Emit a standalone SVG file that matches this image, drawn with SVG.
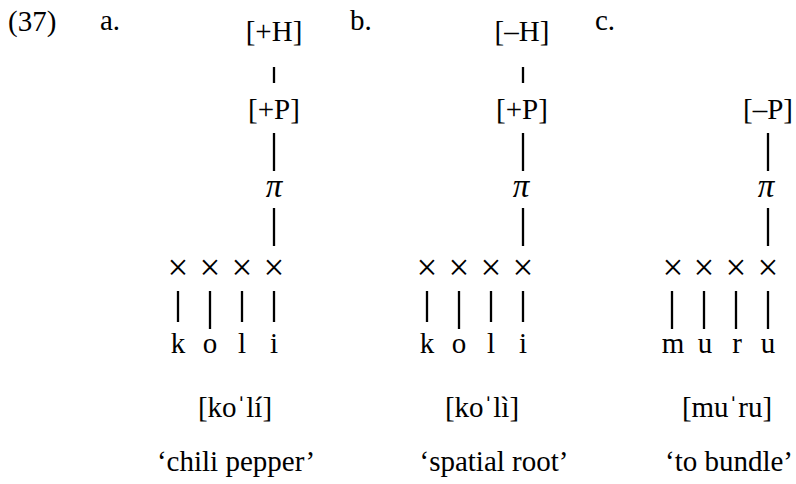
<svg xmlns="http://www.w3.org/2000/svg" width="796" height="484" viewBox="0 0 796 484">
<style>
text{font-family:"Liberation Serif","Times New Roman",serif;font-size:29px;fill:#000}
.m{text-anchor:middle}
.pi{font-style:italic;font-size:33px}
.x{font-size:37px}
line{stroke:#000;stroke-width:2.3}
</style>
<rect width="796" height="484" fill="#fff"/>
<g id="labels">
<text id="num" x="8" y="31">(37)</text>
<text id="la" x="100" y="30">a.</text>
<text id="lb" x="350" y="30">b.</text>
<text id="lc" x="595" y="30">c.</text>
</g>
<g id="connectors">
<line x1="274" y1="67" x2="274" y2="83"/>
<line x1="274" y1="133" x2="274" y2="171"/>
<line x1="274" y1="208" x2="274" y2="246"/>
<line x1="178" y1="291" x2="178" y2="322"/>
<line x1="210" y1="291" x2="210" y2="329"/>
<line x1="242" y1="291" x2="242" y2="322"/>
<line x1="274" y1="291" x2="274" y2="322"/>
<line x1="523" y1="67" x2="523" y2="83"/>
<line x1="523" y1="133" x2="523" y2="171"/>
<line x1="523" y1="208" x2="523" y2="246"/>
<line x1="427" y1="291" x2="427" y2="322"/>
<line x1="459" y1="291" x2="459" y2="329"/>
<line x1="491" y1="291" x2="491" y2="322"/>
<line x1="523" y1="291" x2="523" y2="322"/>
<line x1="768" y1="133" x2="768" y2="171"/>
<line x1="768" y1="208" x2="768" y2="246"/>
<line x1="672" y1="291" x2="672" y2="329"/>
<line x1="704" y1="291" x2="704" y2="329"/>
<line x1="736" y1="291" x2="736" y2="329"/>
<line x1="768" y1="291" x2="768" y2="329"/>
</g>
<g id="a">
<g id="a-H"><text class="m" x="274" y="41">[+H]</text></g>
<g id="a-P"><text class="m" x="274" y="119">[+P]</text></g>
<g id="a-pi"><text class="m pi" x="274" y="197">π</text></g>
<g id="a-x"><text class="m x" x="178" y="280">×</text><text class="m x" x="210" y="280">×</text><text class="m x" x="242" y="280">×</text><text class="m x" x="274" y="280">×</text></g>
<g id="a-seg"><text class="m" x="178" y="353">k</text><text class="m" x="210" y="353">o</text><text class="m" x="242" y="353">l</text><text class="m" x="274" y="353">i</text></g>
<g id="a-tr"><text class="m" x="235" y="417">[koˈlí]</text></g>
<g id="a-gl"><text class="m" x="236" y="471">‘chili pepper’</text></g>
</g>
<g id="b">
<g id="b-H"><text class="m" x="522" y="41">[–H]</text></g>
<g id="b-P"><text class="m" x="522" y="119">[+P]</text></g>
<g id="b-pi"><text class="m pi" x="521" y="197">π</text></g>
<g id="b-x"><text class="m x" x="427" y="280">×</text><text class="m x" x="459" y="280">×</text><text class="m x" x="491" y="280">×</text><text class="m x" x="523" y="280">×</text></g>
<g id="b-seg"><text class="m" x="427" y="353">k</text><text class="m" x="459" y="353">o</text><text class="m" x="491" y="353">l</text><text class="m" x="523" y="353">i</text></g>
<g id="b-tr"><text class="m" x="482" y="417">[koˈlì]</text></g>
<g id="b-gl"><text class="m" x="494" y="471">‘spatial root’</text></g>
</g>
<g id="c">
<g id="c-P"><text class="m" x="768" y="119">[–P]</text></g>
<g id="c-pi"><text class="m pi" x="766" y="197">π</text></g>
<g id="c-x"><text class="m x" x="673" y="280">×</text><text class="m x" x="704" y="280">×</text><text class="m x" x="736" y="280">×</text><text class="m x" x="768" y="280">×</text></g>
<g id="c-seg"><text class="m" x="673" y="353">m</text><text class="m" x="705" y="353">u</text><text class="m" x="737" y="353">r</text><text class="m" x="768" y="353">u</text></g>
<g id="c-tr"><text class="m" x="727" y="417">[muˈru]</text></g>
<g id="c-gl"><text class="m" x="729" y="471">‘to bundle’</text></g>
</g>
</svg>
